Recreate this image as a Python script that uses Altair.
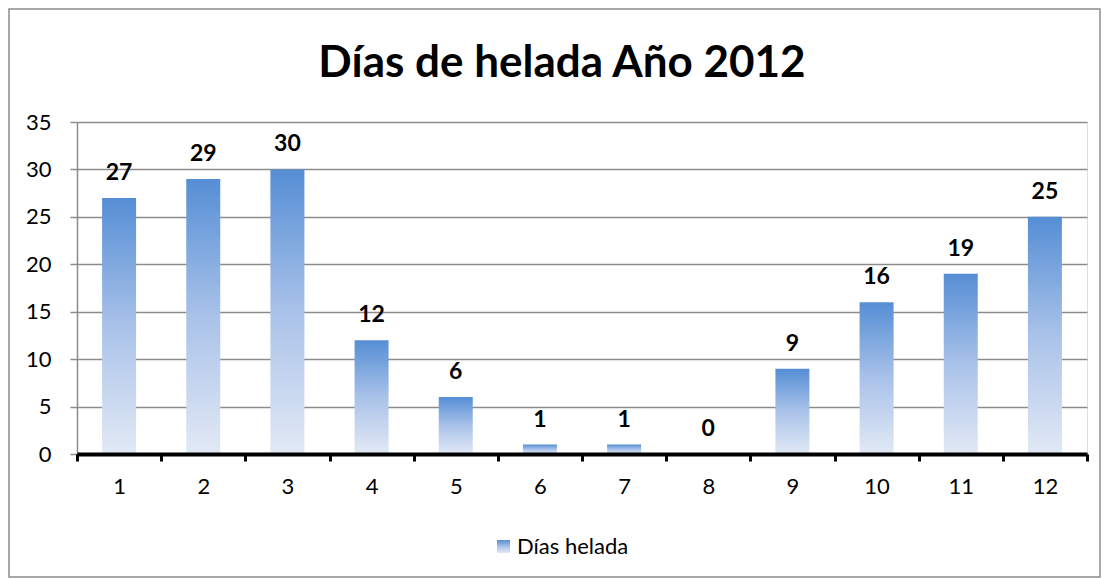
import altair as alt
import pandas as pd

meses = [str(i) for i in range(1, 13)]
dias = [27, 29, 30, 12, 6, 1, 1, 0, 9, 16, 19, 25]
titulo = "Días de helada Año 2012"
serie = "Días helada"

df = pd.DataFrame({"mes": meses, "dias": dias})

grad = alt.Gradient(
    gradient="linear",
    stops=[
        alt.GradientStop(color="#558ED5", offset=0),
        alt.GradientStop(color="#A9C2E9", offset=0.5),
        alt.GradientStop(color="#E2E9F5", offset=1),
    ],
    x1=0, x2=0, y1=0, y2=1,
)

FONT = "Lato"
W, H = 1010, 332

x = alt.X("mes:N", sort=meses, title=None,
          scale=alt.Scale(paddingInner=0, paddingOuter=0),
          axis=alt.Axis(labelAngle=0, labelFontSize=22, labelColor="#000000", labelFont=FONT,
                        domainColor="#000000", domainWidth=4, tickColor="#000000", tickWidth=3,
                        tickSize=7, tickBand="extent", labelPadding=15, zindex=2))
y = alt.Y("dias:Q", title=None,
          scale=alt.Scale(domain=[0, 35], nice=False),
          axis=alt.Axis(values=[0, 5, 10, 15, 20, 25, 30, 35], labelFontSize=22, labelColor="#000000",
                        labelFont=FONT, gridColor="#8C8C8C", gridWidth=1.5, domainColor="#8C8C8C",
                        domainWidth=1.5, tickColor="#8C8C8C", tickWidth=1.5, tickSize=7,
                        labelPadding=19))

base = alt.Chart(df)
bars = base.mark_bar(color=grad, size=34).encode(x=x, y=y)
labels = base.mark_text(fontSize=23, fontWeight="bold", font=FONT, color="#000000",
                        baseline="alphabetic", dy=-18).encode(x=x, y=y, text="dias:Q")

one = pd.DataFrame({"s": [serie], "t": [titulo]})
title_txt = alt.Chart(one).mark_text(
    align="center", baseline="alphabetic", fontSize=44, fontWeight="bold", font=FONT,
    color="#000000").encode(x=alt.value(485), y=alt.value(-45), text="t:N")
legend_sq = alt.Chart(one).mark_rect(color=grad).encode(
    x=alt.value(420), x2=alt.value(433), y=alt.value(418), y2=alt.value(431))
legend_txt = alt.Chart(one).mark_text(
    align="left", baseline="middle", fontSize=22, font=FONT, color="#000000").encode(
    x=alt.value(440), y=alt.value(425), text="s:N")
border = alt.Chart(one).mark_rect(
    fill=None, stroke="#8C8C8C", strokeWidth=1.5).encode(
    x=alt.value(-68), x2=alt.value(1023), y=alt.value(-113), y2=alt.value(455))

chart = alt.layer(border, bars, labels, title_txt, legend_sq, legend_txt).properties(
    width=W, height=H,
    autosize=alt.AutoSizeParams(type="none"),
    padding={"left": 69, "top": 114, "right": 14, "bottom": 124},
).configure_view(stroke=None).configure(background="#FFFFFF")

chart.save("out.html", embed_options={"renderer": "svg", "actions": False})
